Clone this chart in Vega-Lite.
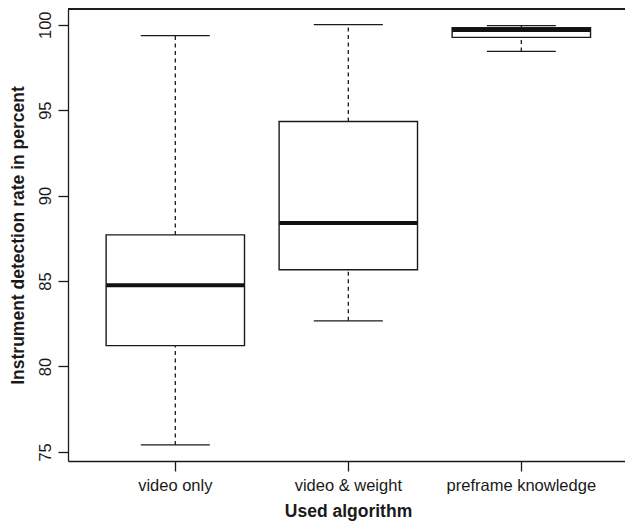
{
  "$schema": "https://vega.github.io/schema/vega-lite/v6.json",
  "autosize": {"type": "none"},
  "padding": {"left": 68, "top": 9, "right": 0, "bottom": 63},
  "width": 557,
  "height": 452,
  "background": "white",
  "config": {
    "view": {"stroke": null},
    "font": "Liberation Sans",
    "axis": {
      "grid": false,
      "domainColor": "#1a1a1a",
      "domainWidth": 1.3,
      "tickColor": "#1a1a1a",
      "tickWidth": 1.3,
      "tickSize": 10,
      "labelColor": "#1a1a1a",
      "labelFont": "Liberation Sans",
      "labelFontSize": 16.5,
      "titleFont": "Liberation Sans",
      "titleFontSize": 17.5,
      "titleFontWeight": "bold",
      "titleColor": "#1a1a1a"
    }
  },
  "data": {
    "values": [
      {"algorithm": "video only", "lower": 75.41, "q1": 81.22, "median": 84.76, "q3": 87.70, "upper": 99.36},
      {"algorithm": "video & weight", "lower": 82.67, "q1": 85.66, "median": 88.39, "q3": 94.34, "upper": 100.0},
      {"algorithm": "preframe knowledge", "lower": 98.44, "q1": 99.26, "median": 99.69, "q3": 99.82, "upper": 99.95}
    ]
  },
  "layer": [
    {
      "mark": {"type": "rule", "strokeDash": [4, 3.5], "strokeWidth": 1.3, "color": "#1a1a1a"},
      "encoding": {
        "x": {
          "field": "algorithm",
          "type": "nominal",
          "sort": null,
          "scale": {
            "domain": ["video only", "video & weight", "preframe knowledge"],
            "paddingInner": 0.2,
            "paddingOuter": 0.2098,
            "align": 0.525
          },
          "axis": {
            "title": "Used algorithm",
            "labelAngle": 0,
            "labelPadding": 6,
            "titleX": 280,
            "titleY": 55,
            "titleBaseline": "alphabetic",
            "titleAlign": "center"
          }
        },
        "y": {
          "field": "lower",
          "type": "quantitative",
          "scale": {"domain": [74.47, 100.92], "nice": false, "zero": false},
          "axis": {
            "title": "Instrument detection rate in percent",
            "values": [75, 80, 85, 90, 95, 100],
            "labelAngle": -90,
            "labelAlign": "center",
            "labelBaseline": "alphabetic",
            "labelPadding": 8,
            "titleAngle": -90,
            "titleX": -45,
            "titleY": 226,
            "titleAlign": "center",
            "titleBaseline": "alphabetic"
          }
        },
        "y2": {"field": "q1"}
      }
    },
    {
      "mark": {"type": "rule", "strokeDash": [4, 3.5], "strokeWidth": 1.3, "color": "#1a1a1a"},
      "encoding": {
        "x": {"field": "algorithm", "type": "nominal", "sort": null},
        "y": {"field": "q3", "type": "quantitative"},
        "y2": {"field": "upper"}
      }
    },
    {
      "mark": {"type": "tick", "orient": "horizontal", "size": 69, "thickness": 1.3, "color": "#1a1a1a", "opacity": 1},
      "encoding": {
        "x": {"field": "algorithm", "type": "nominal", "sort": null},
        "y": {"field": "lower", "type": "quantitative"}
      }
    },
    {
      "mark": {"type": "tick", "orient": "horizontal", "size": 69, "thickness": 1.3, "color": "#1a1a1a", "opacity": 1},
      "encoding": {
        "x": {"field": "algorithm", "type": "nominal", "sort": null},
        "y": {"field": "upper", "type": "quantitative"}
      }
    },
    {
      "mark": {"type": "bar", "fill": "white", "stroke": "#1a1a1a", "strokeWidth": 1.4},
      "encoding": {
        "x": {"field": "algorithm", "type": "nominal", "sort": null},
        "y": {"field": "q1", "type": "quantitative"},
        "y2": {"field": "q3"}
      }
    },
    {
      "mark": {"type": "tick", "orient": "horizontal", "size": 138, "thickness": 4, "color": "#111111", "opacity": 1},
      "encoding": {
        "x": {"field": "algorithm", "type": "nominal", "sort": null},
        "y": {"field": "median", "type": "quantitative"}
      }
    },
    {
      "mark": {"type": "rule", "strokeWidth": 1.5, "color": "#1a1a1a"},
      "encoding": {"y": {"datum": 100.92, "type": "quantitative"}}
    }
  ]
}
